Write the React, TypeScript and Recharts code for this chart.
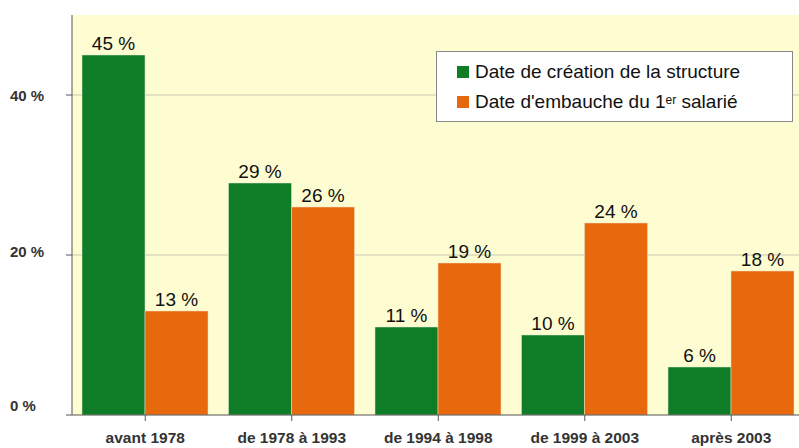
import React from 'react';
import { BarChart, Bar, XAxis, YAxis, CartesianGrid, LabelList } from 'recharts';

const categories = ['avant 1978', 'de 1978 à 1993', 'de 1994 à 1998', 'de 1999 à 2003', 'après 2003'];
const creation = [45, 29, 11, 10, 6];
const embauche = [13, 26, 19, 24, 18];
const yTicks = [0, 20, 40];

const data = categories.map((c, i) => ({ cat: c, creation: creation[i], embauche: embauche[i] }));

const GREEN = '#0f7d28';
const ORANGE = '#e8680e';
const FONT = 'Liberation Sans, Arial, sans-serif';

const YTick = (props: any) => {
  const { y, payload } = props;
  const dy = payload.value === 0 ? -4 : payload.value === 20 ? 2 : 6;
  return (
    <text x={10} y={y} dy={dy} textAnchor="start" fontSize={15} fontWeight="bold" fill="#333" fontFamily={FONT}>
      {payload.value} %
    </text>
  );
};

const XTick = (props: any) => {
  const { x, payload } = props;
  return (
    <text x={x} y={443} textAnchor="middle" fontSize={15.5} fontWeight="bold" fill="#333" fontFamily={FONT}>
      {payload.value}
    </text>
  );
};

const LegendBox = () => (
  <div style={{
    position: 'absolute', left: 436, top: 51, width: 355, height: 69, background: '#fff', border: '1px solid #888',
    fontFamily: FONT, fontSize: 19, color: '#111'
  }}>
    <div style={{ display: 'flex', alignItems: 'center', position: 'absolute', left: 20, top: 9, whiteSpace: 'nowrap' }}>
      <span style={{ width: 12, height: 12, background: GREEN, display: 'inline-block', marginRight: 6 }} />
      Date de création de la structure
    </div>
    <div style={{ display: 'flex', alignItems: 'center', position: 'absolute', left: 20, top: 39, whiteSpace: 'nowrap' }}>
      <span style={{ width: 12, height: 12, background: ORANGE, display: 'inline-block', marginRight: 6 }} />
      Date d'embauche du 1<sup style={{ fontSize: 12, lineHeight: 0, position: 'relative', top: -2 }}>er</sup>&nbsp;salarié
    </div>
  </div>
);

const labelFmt = (v: any) => `${v} %`;

export default function App() {
  return (
    <div style={{ position: 'absolute', left: 0, top: 0, width: 799, height: 448, overflow: 'hidden', background: '#fff' }}>
      <BarChart
        width={810}
        height={448}
        data={data}
        margin={{ top: 15, right: 5.5, bottom: 0, left: 0 }}
        barCategoryGap={10}
        barGap={0}
      >
        <CartesianGrid vertical={false} fill="#fefdd2" stroke="#c9c8b4" horizontalValues={[20, 40]} />
        <XAxis
          dataKey="cat"
          height={33}
          axisLine={{ stroke: '#555' }}
          tickLine={{ stroke: '#555' }}
          tick={<XTick />}
          interval={0}
        />
        <YAxis
          width={72}
          domain={[0, 50]}
          ticks={yTicks}
          axisLine={{ stroke: '#555' }}
          tickLine={{ stroke: '#555' }}
          tickSize={6}
          tick={<YTick />}
        />
        <Bar dataKey="creation" fill={GREEN} stroke="#dfe8c8" strokeWidth={0.5} isAnimationActive={false}>
          <LabelList dataKey="creation" position="top" offset={5} formatter={labelFmt} fontSize={19} fill="#111" fontFamily={FONT} />
        </Bar>
        <Bar dataKey="embauche" fill={ORANGE} stroke="#f3e0c0" strokeWidth={0.5} isAnimationActive={false}>
          <LabelList dataKey="embauche" position="top" offset={5} formatter={labelFmt} fontSize={19} fill="#111" fontFamily={FONT} />
        </Bar>
      </BarChart>
      <LegendBox />
    </div>
  );
}
